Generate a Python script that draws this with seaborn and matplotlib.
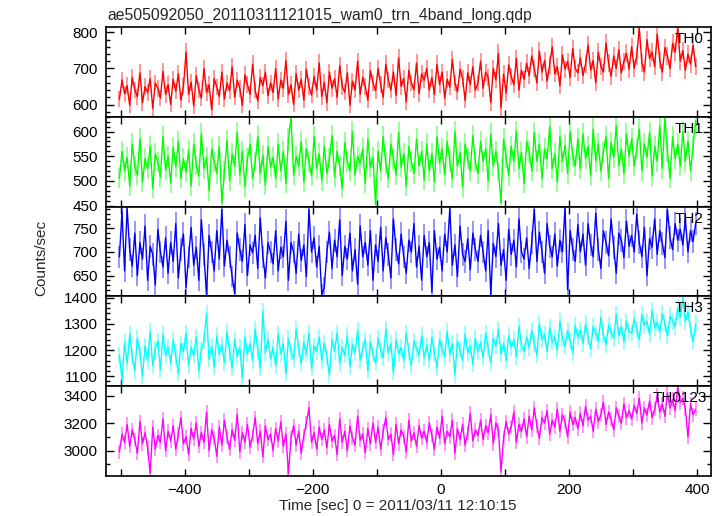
import numpy as np
import pandas as pd
import matplotlib
matplotlib.use("Agg")
import matplotlib.pyplot as plt
import matplotlib.ticker as mticker
import seaborn as sns

# ---------------- data (counts/sec, 4-s samples starting at t = -502 s) ----------------
T_START = -502
T_STEP = 4

th0 = [615, 668, 630, 652, 598, 675, 640, 622, 688, 605, 650, 633, 672, 590, 660, 645, 618, 692, 628, 655,
       600, 670, 637, 685, 612, 650, 745, 628, 662, 596, 680, 640, 618, 700, 633, 655, 586, 672, 648, 622,
       690, 615, 660, 638, 705, 620, 668, 645, 598, 682, 655, 628, 712, 640, 610, 675, 652, 690, 624, 660,
       633, 700, 615, 668, 645, 722, 628, 655, 600, 685, 640, 670, 612, 698, 650, 626, 678, 640, 715, 622,
       662, 605, 690, 645, 672, 620, 708, 650, 634, 688, 598, 665, 640, 720, 628, 675, 650, 612, 694, 660,
       638, 700, 655, 620, 712, 668, 640, 690, 625, 730, 650, 672, 608, 695, 660, 640, 715, 630, 685, 668,
       700, 640, 675, 628, 712, 655, 690, 618, 670, 648, 725, 660, 635, 698, 672, 612, 688, 655, 705, 640,
       660, 720, 645, 690, 675, 605, 700, 668, 742, 590, 685, 632, 710, 678, 655, 728, 640, 695, 670, 715,
       680, 735, 700, 660, 748, 690, 722, 665, 710, 760, 685, 705, 652, 738, 698, 720, 675, 755, 700, 688,
       730, 680, 712, 765, 695, 722, 660, 745, 705, 690, 770, 715, 678, 735, 700, 752, 688, 720, 742, 698,
       760, 700, 735, 812, 715, 690, 780, 728, 745, 705, 795, 722, 690, 758, 735, 700, 770, 745, 812, 720,
       750, 695, 740, 712, 765, 705]

th1 = [505, 560, 520, 548, 490, 575, 530, 512, 585, 498, 545, 525, 570, 485, 555, 538, 508, 590, 522, 550,
       495, 568, 528, 580, 505, 545, 518, 562, 490, 575, 532, 510, 595, 525, 548, 480, 565, 540, 515, 570,
       455, 520, 582, 500, 555, 530, 598, 512, 560, 488, 545, 575, 505, 538, 590, 515, 552, 492, 570, 528,
       548, 505, 575, 520, 560, 495, 585, 628, 512, 550, 530, 580, 498, 565, 540, 510, 590, 525, 555, 500,
       570, 515, 545, 592, 508, 560, 530, 485, 578, 540, 520, 600, 512, 550, 535, 565, 495, 585, 528, 548,
       452, 560, 520, 590, 535, 505, 575, 545, 512, 598, 528, 555, 490, 570, 540, 515, 585, 530, 560, 502,
       575, 520, 555, 498, 590, 535, 565, 512, 580, 540, 505, 600, 530, 558, 488, 575, 545, 520, 592, 538,
       515, 580, 540, 565, 500, 595, 530, 560, 520, 455, 585, 548, 510, 570, 540, 600, 525, 558, 495, 580,
       560, 520, 598, 540, 575, 505, 565, 545, 610, 525, 555, 498, 590, 540, 572, 515, 600, 550, 530, 585,
       525, 595, 545, 570, 510, 605, 540, 575, 520, 560, 590, 505, 578, 548, 612, 530, 565, 515, 595, 550,
       585, 530, 565, 605, 520, 575, 548, 598, 510, 570, 540, 612, 525, 628, 560, 505, 590, 545, 575, 530,
       600, 540, 580, 520, 570, 622]

th2 = [690, 785, 660, 792, 705, 670, 740, 650, 720, 685, 755, 640, 712, 695, 630, 748, 700, 668, 730, 655,
       720, 680, 760, 645, 705, 738, 625, 690, 752, 672, 710, 640, 768, 695, 608, 735, 700, 660, 745, 685,
       790, 670, 725, 690, 648, 612, 740, 705, 680, 758, 650, 715, 698, 735, 665, 772, 690, 645, 720, 700,
       675, 745, 660, 710, 690, 765, 640, 720, 700, 655, 738, 682, 715, 648, 790, 700, 730, 668, 712, 610,
       625, 700, 742, 665, 725, 690, 768, 650, 712, 685, 740, 660, 705, 632, 755, 690, 720, 672, 745, 640,
       715, 680, 752, 660, 730, 695, 645, 770, 705, 675, 738, 690, 655, 725, 700, 760, 668, 712, 640, 735,
       690, 720, 615, 745, 685, 710, 660, 738, 700, 792, 672, 715, 648, 755, 695, 680, 728, 662, 740, 705,
       680, 735, 700, 660, 745, 610, 718, 690, 760, 672, 705, 640, 748, 695, 725, 668, 770, 700, 685, 730,
       665, 720, 790, 680, 742, 700, 655, 760, 712, 690, 738, 670, 725, 700, 795, 620, 745, 705, 680, 758,
       700, 738, 672, 760, 715, 690, 782, 705, 665, 745, 720, 692, 770, 710, 655, 740, 725, 688, 765, 712,
       735, 700, 780, 720, 690, 752, 650, 728, 710, 770, 695, 745, 718, 688, 790, 730, 705, 760, 725, 748,
       715, 770, 700, 745, 722, 760]

th3 = [1180, 1085, 1230, 1150, 1260, 1175, 1120, 1245, 1190, 1100, 1215, 1160, 1270, 1140, 1205, 1235, 1125, 1260, 1180, 1210,
       1150, 1240, 1175, 1110, 1225, 1195, 1265, 1140, 1210, 1180, 1250, 1120, 1200, 1235, 1340, 1165, 1215, 1135, 1255, 1185,
       1220, 1150, 1270, 1195, 1130, 1240, 1175, 1210, 1095, 1250, 1185, 1225, 1160, 1280, 1200, 1130, 1348, 1190, 1240, 1165,
       1210, 1140, 1260, 1185, 1225, 1110, 1245, 1195, 1165, 1280, 1205, 1150, 1230, 1185, 1265, 1130, 1215, 1195, 1250, 1160,
       1225, 1175, 1105, 1240, 1195, 1265, 1150, 1210, 1180, 1255, 1135, 1220, 1190, 1275, 1160, 1205, 1240, 1120, 1230, 1185,
       1150, 1245, 1200, 1170, 1280, 1190, 1225, 1115, 1240, 1185, 1210, 1160, 1265, 1195, 1140, 1235, 1205, 1180, 1255, 1170,
       1220, 1160, 1250, 1190, 1130, 1240, 1205, 1175, 1270, 1185, 1225, 1105, 1235, 1200, 1160, 1260, 1190, 1215, 1145, 1245,
       1195, 1230, 1170, 1265, 1205, 1150, 1245, 1215, 1280, 1185, 1225, 1160, 1255, 1210, 1240, 1175, 1290, 1220, 1195, 1250,
       1210, 1275, 1225, 1180, 1300, 1240, 1260, 1195, 1285, 1230, 1250, 1200, 1310, 1245, 1215, 1275, 1235, 1190, 1295, 1250,
       1275, 1225, 1300, 1250, 1205, 1290, 1265, 1235, 1325, 1260, 1220, 1295, 1270, 1245, 1335, 1255, 1290, 1230, 1310, 1270,
       1265, 1320, 1280, 1240, 1335, 1295, 1310, 1260, 1350, 1285, 1305, 1270, 1340, 1300, 1255, 1330, 1310, 1290, 1360, 1325,
       1400, 1310, 1345, 1280, 1230, 1300]

th0123 = [2990, 3120, 3060, 3190, 3030, 3150, 3080, 2980, 3210, 3050, 3130, 3020, 2835, 3170, 3010, 3110, 3060, 3230, 3000, 3140,
          3070, 3180, 3010, 3120, 3240, 3050, 3100, 2970, 3160, 3085, 3200, 3030, 3130, 3060, 3280, 3000, 3150, 3090, 2960, 3170,
          3040, 3220, 3100, 3010, 3150, 3075, 3260, 2990, 3130, 3060, 3190, 3025, 3110, 3240, 3050, 3140, 2955, 3180, 3080, 3120,
          3000, 3160, 3070, 3210, 3030, 3120, 2830, 3090, 3180, 3040, 3140, 2980, 3110, 3200, 3312, 3060, 3130, 3010, 3170, 3080,
          3150, 3020, 3190, 3070, 3110, 2970, 3230, 3060, 3140, 3000, 3180, 3090, 3040, 3250, 3075, 3120, 2985, 3160, 3050, 3200,
          3060, 3170, 3010, 3140, 3240, 3080, 3120, 2970, 3190, 3050, 3150, 3100, 2990, 3220, 3070, 3130, 3030, 3180, 3090, 3140,
          3060, 3200, 3110, 3010, 3170, 3090, 3250, 3050, 3140, 3100, 3220, 2980, 3160, 3080, 3190, 3040, 3130, 3270, 3070, 3150,
          3110, 3220, 3080, 3180, 3130, 3260, 3050, 3200, 3150, 2847, 3090, 3210, 3120, 3170, 3280, 3060, 3190, 3140, 3230, 3100,
          3250, 3150, 3310, 3180, 3090, 3240, 3200, 3290, 3120, 3220, 3170, 3300, 3140, 3260, 3210, 3100, 3280, 3190, 3240, 3160,
          3270, 3180, 3320, 3220, 3250, 3140, 3300, 3210, 3260, 3350, 3190, 3280, 3230, 3150, 3310, 3250, 3200, 3340, 3240, 3290,
          3230, 3330, 3270, 3380, 3200, 3310, 3260, 3360, 3240, 3300, 3400, 3280, 3340, 3250, 3420, 3310, 3370, 3290, 3460, 3350,
          3380, 3300, 3100, 3340, 3260, 3300]

band_names = ["TH0", "TH1", "TH2", "TH3", "TH0123"]
band_values = [th0, th1, th2, th3, th0123]
band_colors = ["#ff0000", "#00ff00", "#0000ff", "#00ffff", "#ff00ff"]
y_limits = [(566, 815), (448, 630), (606, 796), (1062, 1405), (2815, 3468)]
y_major = [100, 50, 50, 100, 200]
y_minor = [20, 10, 10, 20, 100]
x_limits = (-523, 422)
title_text = "ae505092050_20110311121015_wam0_trn_4band_long.qdp"
x_label = "Time [sec] 0 = 2011/03/11 12:10:15"
y_label = "Counts/sec"
label_x = [0.988, 0.988, 0.988, 0.988, 0.994]
ERR_SCALE = 0.9

# ---------------- style ----------------
sns.set_theme(style="ticks")
plt.rcParams["font.family"] = ["Liberation Sans", "DejaVu Sans"]
plt.rcParams["axes.linewidth"] = 1.2
plt.rcParams["axes.edgecolor"] = "black"

fig = plt.figure(figsize=(7.24, 5.16), dpi=100)
axes = fig.subplots(5, 1, sharex=True)
fig.subplots_adjust(left=106 / 724, right=711 / 724, top=1 - 27 / 516, bottom=1 - 476 / 516, hspace=0)

for i, ax in enumerate(axes):
    vals = np.asarray(band_values[i], dtype=float)
    t = T_START + T_STEP * np.arange(len(vals))
    df = pd.DataFrame({"time": t, "rate": vals})
    col = band_colors[i]
    ax.errorbar(df["time"], df["rate"], yerr=np.sqrt(df["rate"]) * ERR_SCALE, fmt="none",
                ecolor=col, elinewidth=1.3, alpha=0.45, capsize=0, zorder=1)
    sns.lineplot(data=df, x="time", y="rate", ax=ax, color=col, lw=1.0, estimator=None, zorder=2)
    ax.set_xlim(*x_limits)
    ax.set_ylim(*y_limits[i])
    ax.set_xlabel("")
    ax.set_ylabel("")
    ax.yaxis.set_major_locator(mticker.MultipleLocator(y_major[i]))
    ax.yaxis.set_minor_locator(mticker.MultipleLocator(y_minor[i]))
    ax.xaxis.set_major_locator(mticker.MultipleLocator(200))
    ax.xaxis.set_minor_locator(mticker.MultipleLocator(100))
    ax.tick_params(which="both", direction="in", top=True, right=True, colors="black",
                   labelsize=11, width=1.0)
    ax.tick_params(axis="y", which="major", length=6, pad=6)
    ax.tick_params(axis="y", which="minor", length=3)
    ax.tick_params(axis="x", which="both", length=5, pad=5)
    ax.text(label_x[i], 0.945, band_names[i], transform=ax.transAxes, ha="right", va="top",
            fontsize=11, color="black", zorder=5)

fig.text(107 / 724, 1 - 19.5 / 516, title_text, ha="left", va="baseline", fontsize=11.3)
fig.text(398 / 724, 1 - 506 / 516, x_label, ha="center", va="center", fontsize=11)
fig.text(41 / 724, 1 - 258 / 516, y_label, ha="center", va="center", rotation=90, fontsize=11)

fig.savefig("out.png", dpi=100)
